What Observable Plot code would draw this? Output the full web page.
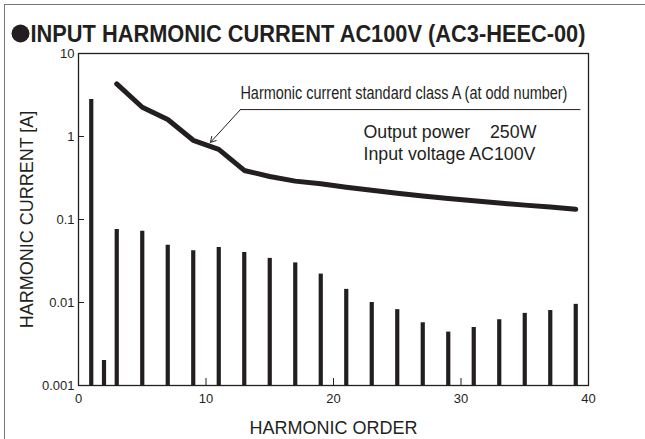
<!DOCTYPE html>
<html><head><meta charset="utf-8">
<script src="https://cdn.jsdelivr.net/npm/d3@7"></script>
<script src="https://cdn.jsdelivr.net/npm/@observablehq/plot@0.6"></script>
<style>
body{margin:0;background:#fff;}
#chart{position:absolute;left:0;top:0;}
#frame{position:absolute;left:4px;top:4px;width:641px;height:435px;border:1px solid #777;border-right:none;border-bottom:none;box-sizing:border-box;pointer-events:none}
</style></head><body>
<div id="chart"></div>
<div id="frame"></div>
<script>
const titleText = "INPUT HARMONIC CURRENT AC100V (AC3-HEEC-00)";
const xLabel = "HARMONIC ORDER";
const yLabel = "HARMONIC CURRENT [A]";

const measuredOrders  = [1, 2, 3, 5, 7, 9, 11, 13, 15, 17, 19, 21, 23, 25, 27, 29, 31, 33, 35, 37, 39];
const measuredCurrent = [2.8, 0.002, 0.076, 0.072, 0.049, 0.042, 0.046, 0.040, 0.034, 0.030, 0.022, 0.0144, 0.010, 0.0082, 0.0057, 0.0044, 0.0050, 0.0062, 0.0074, 0.0080, 0.0095];

const limitOrders  = [3, 5, 7, 9, 11, 13, 15, 17, 19, 21, 23, 25, 27, 29, 31, 33, 35, 37, 39];
const limitCurrent = [4.3, 2.25, 1.6, 0.9, 0.7, 0.39, 0.33, 0.29, 0.27, 0.245, 0.225, 0.207, 0.192, 0.179, 0.168, 0.158, 0.149, 0.141, 0.133];

const xTicks = [0, 10, 20, 30, 40];
const yTicks = [0.001, 0.01, 0.1, 1, 10];
const yTickLabels = ["0.001", "0.01", "0.1", "1", "10"];

const annoText = "Harmonic current standard class A (at odd number)";
const annoLeaderX = [12.7, 39.4];
const annoLeaderY = 2.11;
const annoTextY = 3.3;
const annoArrowTip = [10.35, 0.85];

const conditionLines = ["Output power\u00a0\u00a0\u00a0\u00a0250W", "Input voltage AC100V"];
const conditionX = 22.35;
const conditionY = [1.12, 0.607];

const ink = "#231f20";
const font = "'Liberation Sans', Arial, Helvetica, sans-serif";

const bars = measuredOrders.map((o, i) => ({order: o, current: measuredCurrent[i]}));
const limit = limitOrders.map((o, i) => ({order: o, current: limitCurrent[i]}));

const plot = Plot.plot({
  width: 645,
  height: 439,
  marginLeft: 78,
  marginRight: 57,
  marginTop: 53,
  marginBottom: 54,
  style: {fontFamily: font, color: ink, background: "#fff"},
  x: {domain: [0, 40]},
  y: {type: "log", domain: [0.001, 10]},
  marks: [
    Plot.frame({stroke: ink, strokeWidth: 1.3}),
    Plot.ruleX(bars, {x: "order", y1: 0.001, y2: "current", stroke: ink, strokeWidth: 4.2}),
    Plot.line(limit, {x: "order", y: "current", stroke: ink, strokeWidth: 5, strokeLinejoin: "round"}),
    Plot.ruleY([annoLeaderY], {x1: annoLeaderX[0], x2: annoLeaderX[1], stroke: ink, strokeWidth: 1}),
    Plot.arrow([0], {x1: annoLeaderX[0], y1: annoLeaderY, x2: annoArrowTip[0], y2: annoArrowTip[1], stroke: ink, strokeWidth: 1, headLength: 9}),
    Plot.text([annoText], {x: annoLeaderX[0], y: annoTextY, text: d => d, textAnchor: "start", fontSize: 17.5, fill: ink}),
    Plot.text(conditionLines, {x: conditionX, y: (d, i) => conditionY[i], text: d => d, textAnchor: "start", fontSize: 17.8, fill: ink}),
    Plot.axisX(xTicks, {tickSize: -7, tickPadding: 15, fontSize: 13, stroke: ink, fill: ink, label: null}),
    Plot.axisY(yTicks, {tickSize: -6, tickPadding: 10, fontSize: 13, stroke: ink, fill: ink, tickFormat: d => yTickLabels[yTicks.indexOf(d)], label: null}),
    Plot.text([xLabel], {frameAnchor: "bottom", dy: 43, lineAnchor: "middle", textAnchor: "middle", text: d => d, fontSize: 18, fill: ink}),
    Plot.text([yLabel], {frameAnchor: "left", dx: -51, rotate: -90, lineAnchor: "middle", textAnchor: "middle", text: d => d, fontSize: 18, fill: ink}),
    Plot.dot([0], {frameAnchor: "top-left", dx: -58, dy: -20, r: 9, fill: ink, stroke: null}),
    Plot.text([titleText], {frameAnchor: "top-left", dx: -48, dy: -12, lineAnchor: "bottom", textAnchor: "start", text: d => d, fontSize: 24, fontWeight: "bold", fill: ink})
  ]
});

// condensed typefaces of the original: squeeze the two narrow texts
d3.select(plot).selectAll("text").each(function() {
  const t = this.textContent;
  if (t === titleText) { this.setAttribute("textLength", 555); this.setAttribute("lengthAdjust", "spacingAndGlyphs"); }
  if (t === annoText) { this.setAttribute("textLength", 327); this.setAttribute("lengthAdjust", "spacingAndGlyphs"); }
});
document.getElementById("chart").appendChild(plot);
</script>
</body></html>
